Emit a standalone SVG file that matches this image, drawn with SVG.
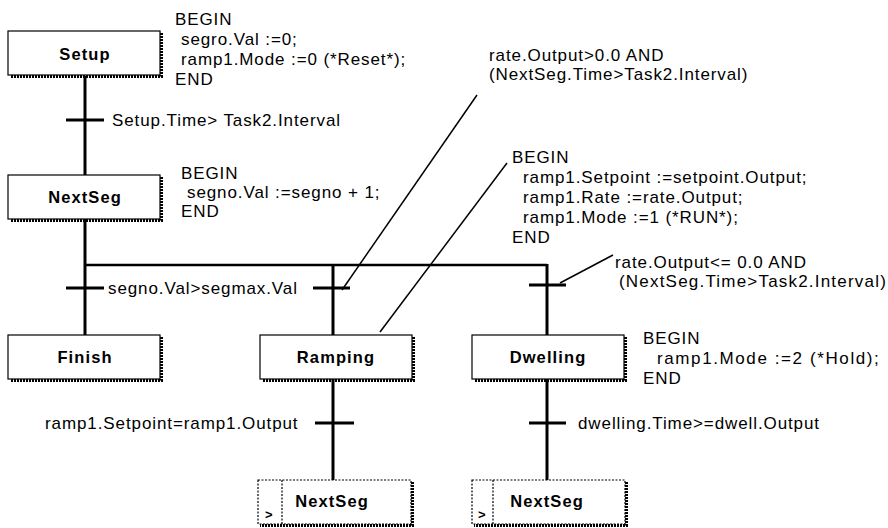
<svg xmlns="http://www.w3.org/2000/svg" width="888" height="528" viewBox="0 0 888 528">
  <style>
    .bg { fill: #ffffff; }
    .box { fill: #ffffff; stroke: #000; stroke-width: 1.2; }
    .jbox { fill: #ffffff; stroke: #000; stroke-width: 1.2; stroke-dasharray: 2 1.5; }
    .sh { stroke: #000; stroke-width: 3; stroke-dasharray: 2 1; fill: none; }
    .title { font-family: "Liberation Sans", Arial, sans-serif; font-size: 16.5px; font-weight: bold; text-anchor: middle; fill: #000; letter-spacing: 1.1px; }
    .t { font-family: "Liberation Sans", Arial, sans-serif; font-size: 17px; fill: #000; letter-spacing: 0.9px; }
    .small { font-family: "Liberation Sans", Arial, sans-serif; font-size: 13px; font-weight: bold; fill: #000; }
    .flow { stroke: #000; stroke-width: 3; fill: none; }
    .branch { stroke: #000; stroke-width: 2.5; fill: none; }
    .tick { stroke: #000; stroke-width: 3; fill: none; }
    .lead { stroke: #000; stroke-width: 1.5; fill: none; }
  </style>
  <rect class="bg" x="0" y="0" width="888" height="528"/>

  <!-- connectors: flow lines, transitions and note leaders -->
  <g id="connectors">
    <line class="flow" x1="85" y1="76" x2="85" y2="175"/>
    <line class="tick" x1="66" y1="120" x2="104" y2="120"/>
    <line class="flow" x1="85" y1="219" x2="85" y2="335"/>
    <line class="branch" x1="85" y1="265" x2="547" y2="265"/>
    <line class="flow" x1="333" y1="264" x2="333" y2="335"/>
    <line class="flow" x1="547" y1="264" x2="547" y2="335"/>
    <line class="tick" x1="66" y1="288" x2="104" y2="288"/>
    <line class="tick" x1="313" y1="288" x2="350" y2="288"/>
    <line class="tick" x1="529" y1="285" x2="566" y2="285"/>
    <line class="flow" x1="333" y1="379" x2="333" y2="480"/>
    <line class="flow" x1="547" y1="379" x2="547" y2="480"/>
    <line class="tick" x1="315" y1="423" x2="354" y2="423"/>
    <line class="tick" x1="529" y1="423" x2="566" y2="423"/>
    <line class="lead" x1="477" y1="95" x2="342" y2="290"/>
    <line class="lead" x1="507" y1="163" x2="380" y2="332"/>
    <line class="lead" x1="613" y1="255" x2="560" y2="283"/>
  </g>

  <!-- steps -->
  <g id="step-setup">
    <rect class="box" x="8" y="31" width="152" height="44"/>
    <polyline class="sh" points="161.5,33 161.5,76.5 10,76.5"/>
    <text class="title" x="85" y="60">Setup</text>
  </g>
  <g id="step-nextseg">
    <rect class="box" x="8" y="175" width="152" height="44"/>
    <polyline class="sh" points="161.5,177 161.5,220.5 10,220.5"/>
    <text class="title" x="85" y="203">NextSeg</text>
  </g>
  <g id="step-finish">
    <rect class="box" x="8" y="335" width="152" height="44"/>
    <polyline class="sh" points="161.5,337 161.5,380.5 10,380.5"/>
    <text class="title" x="85" y="363">Finish</text>
  </g>
  <g id="step-ramping">
    <rect class="box" x="260" y="335" width="152" height="44"/>
    <polyline class="sh" points="413.5,337 413.5,380.5 262,380.5"/>
    <text class="title" x="336" y="363">Ramping</text>
  </g>
  <g id="step-dwelling">
    <rect class="box" x="472" y="335" width="152" height="44"/>
    <polyline class="sh" points="625.5,337 625.5,380.5 474,380.5"/>
    <text class="title" x="548" y="363">Dwelling</text>
  </g>

  <!-- jumps back to NextSeg -->
  <g id="jump-ramping">
    <rect class="jbox" x="258" y="480" width="153" height="44"/>
    <line class="jbox" x1="282" y1="480" x2="282" y2="524"/>
    <polyline class="sh" points="412.5,482 412.5,525.5 260,525.5"/>
    <text class="small" x="265" y="519">&gt;</text>
    <text class="title" x="332" y="507">NextSeg</text>
  </g>
  <g id="jump-dwelling">
    <rect class="jbox" x="472" y="480" width="153" height="44"/>
    <line class="jbox" x1="493" y1="480" x2="493" y2="524"/>
    <polyline class="sh" points="626.5,482 626.5,525.5 474,525.5"/>
    <text class="small" x="478" y="519">&gt;</text>
    <text class="title" x="547" y="507">NextSeg</text>
  </g>

  <!-- step actions -->
  <g id="action-setup" class="t">
    <text x="175" y="25">BEGIN</text>
    <text x="181" y="45">segro.Val :=0;</text>
    <text x="181" y="65">ramp1.Mode :=0 (*Reset*);</text>
    <text x="175" y="85">END</text>
  </g>
  <g id="action-nextseg" class="t">
    <text x="181" y="179">BEGIN</text>
    <text x="187" y="198">segno.Val :=segno + 1;</text>
    <text x="181" y="217">END</text>
  </g>
  <g id="action-ramping" class="t">
    <text x="512" y="163">BEGIN</text>
    <text x="523" y="183">ramp1.Setpoint :=setpoint.Output;</text>
    <text x="523" y="203">ramp1.Rate :=rate.Output;</text>
    <text x="523" y="223">ramp1.Mode :=1 (*RUN*);</text>
    <text x="512" y="243">END</text>
  </g>
  <g id="action-dwelling" class="t">
    <text x="643" y="344">BEGIN</text>
    <text x="657" y="364" letter-spacing="1.6">ramp1.Mode :=2 (*Hold);</text>
    <text x="643" y="384">END</text>
  </g>

  <!-- transition conditions -->
  <g id="conditions" class="t">
    <text x="112" y="126">Setup.Time&gt; Task2.Interval</text>
    <text x="108" y="294">segno.Val&gt;segmax.Val</text>
    <text x="489" y="61">rate.Output&gt;0.0 AND</text>
    <text x="489" y="80">(NextSeg.Time&gt;Task2.Interval)</text>
    <text x="615" y="268">rate.Output&lt;= 0.0 AND</text>
    <text x="619" y="287" letter-spacing="1.2">(NextSeg.Time&gt;Task2.Interval)</text>
    <text x="45" y="429">ramp1.Setpoint=ramp1.Output</text>
    <text x="578" y="429">dwelling.Time&gt;=dwell.Output</text>
  </g>
</svg>
